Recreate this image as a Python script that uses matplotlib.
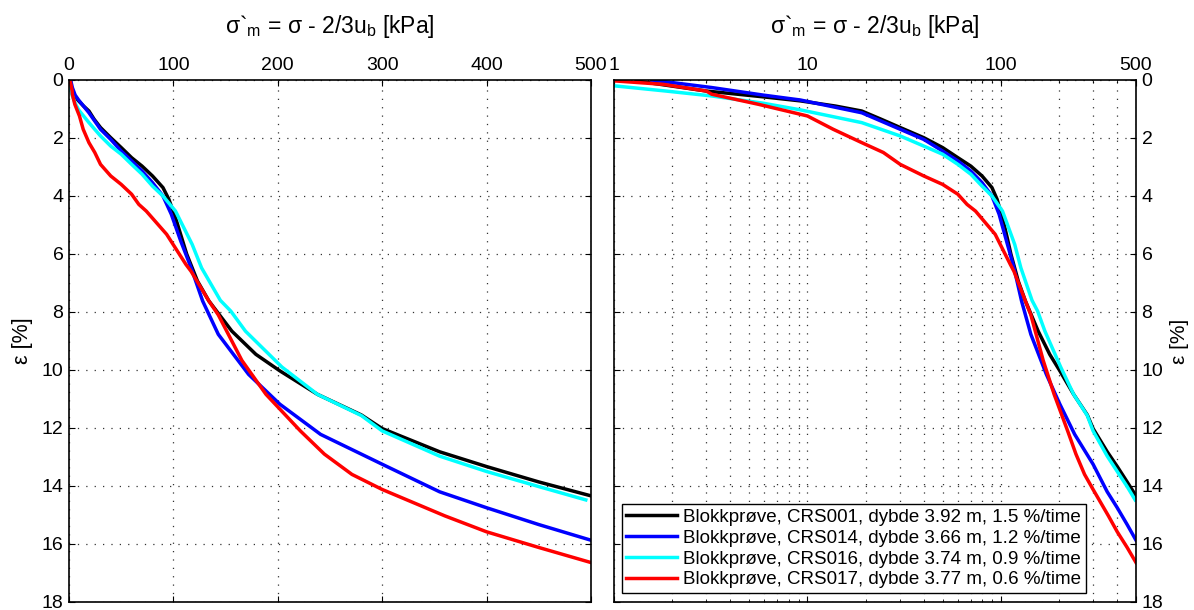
# plot.py
#
# CRS tests on block samples: strain vs. effective mean stress,
# same data on a linear and on a logarithmic stress axis.

import numpy as np
import matplotlib.pyplot as plt
from matplotlib.ticker import FixedLocator, NullFormatter

plt.rcParams['font.family'] = ['Liberation Sans', 'DejaVu Sans']
plt.rcParams['mathtext.fontset'] = 'custom'
plt.rcParams['mathtext.rm'] = 'Liberation Sans'
plt.rcParams['mathtext.default'] = 'regular'

labels = ["Blokkprøve, CRS001, dybde 3.92 m, 1.5 %/time",
          "Blokkprøve, CRS014, dybde 3.66 m, 1.2 %/time",
          "Blokkprøve, CRS016, dybde 3.74 m, 0.9 %/time",
          "Blokkprøve, CRS017, dybde 3.77 m, 0.6 %/time"]
colors = ['black', 'blue', 'cyan', 'red']

# sigma'_m [kPa] and strain [%]
stress_crs001 = [0, 1.3, 3.0, 5.9, 9.2, 14, 19.1, 24, 30.2, 40, 50, 60, 70,
                 80, 90, 95.6, 102, 108, 112.7, 123, 134, 156, 179, 202, 238,
                 280, 300, 355, 400, 450, 500]
strain_crs001 = [0, 0.03, 0.38, 0.58, 0.72, 0.9, 1.07, 1.35, 1.64, 1.99, 2.33,
                 2.68, 2.97, 3.31, 3.71, 4.11, 4.75, 5.45, 6.0, 6.93, 7.62,
                 8.66, 9.46, 10.03, 10.84, 11.55, 12.02, 12.82, 13.33, 13.86,
                 14.34]

stress_crs014 = [0, 1.57, 3.2, 5.9, 9.2, 19.1, 30.2, 40, 50, 60, 70, 80, 90,
                 98, 107, 117, 128, 143, 172, 202, 241, 300, 355, 400, 450,
                 500]
strain_crs014 = [0, 0.0, 0.26, 0.52, 0.69, 1.13, 1.7, 2.05, 2.45, 2.79, 3.14,
                 3.54, 4.0, 4.63, 5.55, 6.48, 7.62, 8.77, 10.15, 11.18, 12.22,
                 13.25, 14.2, 14.75, 15.33, 15.87]

stress_crs016 = [0, 1.0, 1.85, 3.2, 5.9, 9.2, 19.1, 30.2, 40, 50, 60, 70, 80,
                 90, 102, 118, 127, 145, 155, 169, 204, 238, 280, 300, 355,
                 400, 450, 495]
strain_crs016 = [0, 0.2, 0.38, 0.55, 0.8, 1.03, 1.47, 1.93, 2.28, 2.56, 2.91,
                 3.25, 3.66, 4.0, 4.52, 5.67, 6.48, 7.6, 7.97, 8.66, 9.9,
                 10.84, 11.57, 12.1, 12.97, 13.5, 14.02, 14.48]

stress_crs017 = [0, 1.0, 1.8, 3.0, 3.2, 5.6, 10, 13.6, 19.1, 24.7, 30.2, 40,
                 50, 60, 66.9, 74, 93.5, 112, 117, 134, 143, 165.6, 188.7,
                 221.6, 244.6, 271, 300, 360, 400, 450, 500]
strain_crs017 = [0, 0.03, 0.15, 0.38, 0.49, 0.84, 1.24, 1.7, 2.16, 2.5, 2.91,
                 3.31, 3.6, 3.94, 4.29, 4.52, 5.32, 6.36, 6.6, 7.62, 8.1, 9.67,
                 10.84, 12.1, 12.9, 13.6, 14.12, 15.03, 15.58, 16.12, 16.64]

stresses = [stress_crs001, stress_crs014, stress_crs016, stress_crs017]
strains = [strain_crs001, strain_crs014, strain_crs016, strain_crs017]

strain_ticks = np.arange(0, 19, 2)
title = "σ`$_{m}$ = σ - 2/3u$_{b}$ [kPa]"

W, H = 1194, 610
grid_style = dict(linestyle=(0, (1, 5.7)), color='0.2', linewidth=0.9)


def style_axes(ax):
    """Common MATLAB-like look: ticks inside, on all sides, dotted grid."""
    ax.set_ylim(18, 0)
    ax.set_yticks(strain_ticks)
    ax.xaxis.set_ticks_position('both')
    ax.yaxis.set_ticks_position('both')
    ax.tick_params(which='both', direction='in', labelsize=14,
                   top=True, bottom=True, labeltop=True, labelbottom=False)
    ax.tick_params(which='major', length=4.5, width=0.8)
    ax.tick_params(which='minor', length=2.5, width=0.6)
    ax.tick_params(axis='x', pad=4)
    ax.tick_params(axis='y', pad=4)
    ax.grid(True, which='major', **grid_style)
    for s in ax.spines.values():
        s.set_linewidth(1.2)
    ax.text(0.5, 1.09, title, transform=ax.transAxes, ha='center',
            va='baseline', fontsize=16.5)


def plot_curves(ax):
    lines = []
    for x, y, c, lab in zip(stresses, strains, colors, labels):
        line, = ax.plot(x, y, color=c, linewidth=2.5, label=lab)
        lines.append(line)
    return lines


fig = plt.figure(figsize=(W / 100, H / 100), dpi=100)

# Linear stress axis
ax1 = fig.add_axes([69 / W, 8 / H, 522 / W, 522 / H])
plot_curves(ax1)
ax1.set_xlim(0, 500)
ax1.set_xticks([0, 100, 200, 300, 400, 500])
style_axes(ax1)
ax1.set_ylabel("ε [%]", fontsize=15.5)
ax1.yaxis.set_label_coords(-0.069, 0.5)

# Logarithmic stress axis
ax2 = fig.add_axes([614 / W, 8 / H, 522 / W, 522 / H])
ax2.set_xscale('log', nonpositive='mask')
lines = plot_curves(ax2)
ax2.set_xlim(1, 500)
style_axes(ax2)
ax2.xaxis.set_major_locator(FixedLocator([1, 10, 100, 500]))
ax2.set_xticklabels(['1', '10', '100', '500'])
minors = [m * d for d in (1, 10, 100) for m in range(2, 10) if m * d < 500]
ax2.xaxis.set_minor_locator(FixedLocator(minors))
ax2.xaxis.set_minor_formatter(NullFormatter())
ax2.grid(True, which='minor', axis='x', **grid_style)
ax2.tick_params(axis='y', labelleft=False, labelright=True)
ax2.yaxis.set_label_position('right')
ax2.set_ylabel("ε [%]", fontsize=15)
ax2.yaxis.set_label_coords(1.065, 0.5)

leg = ax2.legend(handles=lines, loc='lower left',
                 bbox_to_anchor=(0.0146, 0.017), fontsize=13.5,
                 handlelength=2.7, handletextpad=0.35, labelspacing=0.2,
                 borderpad=0.25, borderaxespad=0, fancybox=False,
                 framealpha=1, edgecolor='black')
leg.get_frame().set_linewidth(1.0)

fig.savefig('out.png', dpi=100)
